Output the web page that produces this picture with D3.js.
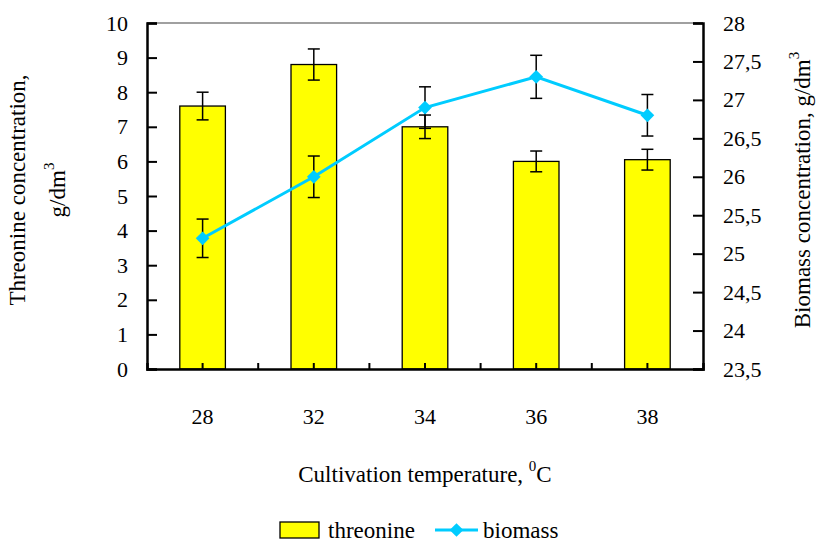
<!DOCTYPE html>
<html>
<head>
<meta charset="utf-8">
<script src="https://cdn.jsdelivr.net/npm/d3@7"></script>
<style>
  body { margin: 0; background: #fff; }
  svg text { font-family: "Liberation Serif", "Times New Roman", Times, "DejaVu Serif", serif; fill: #000; }
  .axis path, .axis line { stroke: #000; stroke-width: 2; }
  .axis text { font-size: 22px; }
</style>
</head>
<body>
<div class="chart"></div>
<script>
var temps = ["28", "32", "34", "36", "38"];
var threonine = [7.6, 8.8, 7.0, 6.0, 6.05];
var threonineErr = [0.4, 0.45, 0.34, 0.3, 0.3];
var biomass = [25.2, 26.0, 26.9, 27.3, 26.8];
var biomassErr = [0.25, 0.27, 0.27, 0.28, 0.27];
var leftTicks = [0, 1, 2, 3, 4, 5, 6, 7, 8, 9, 10];
var rightTicks = [23.5, 24, 24.5, 25, 25.5, 26, 26.5, 27, 27.5, 28];

var serif = "'Liberation Serif', 'Times New Roman', Times, 'DejaVu Serif', serif";

var margin = {top: 23, right: 115, bottom: 173, left: 147},
    width = 818 - margin.left - margin.right,
    height = 542 - margin.top - margin.bottom;

var data = temps.map(function (t, i) {
  return {t: t, thr: threonine[i], thrErr: threonineErr[i], bio: biomass[i], bioErr: biomassErr[i]};
});

var x = d3.scaleBand().domain(temps).range([0, width]).paddingInner(0).paddingOuter(0);
var y = d3.scaleLinear().domain([0, 10]).range([height, 0]);
var y2 = d3.scaleLinear().domain([23.5, 28]).range([height, 0]);
var barW = x.bandwidth() * 0.41;
var cx = function (d) { return x(d.t) + x.bandwidth() / 2; };

var svg = d3.select(".chart").append("svg")
    .attr("width", 818)
    .attr("height", 542)
  .append("g")
    .attr("transform", "translate(" + margin.left + "," + margin.top + ")");

// top border of plot area
svg.append("line")
  .attr("x1", 0).attr("x2", width)
  .attr("y1", 0).attr("y2", 0)
  .style("stroke", "#808080").style("stroke-width", 1.5);

// bars
svg.selectAll(".bar").data(data).enter().append("rect")
  .attr("class", "bar")
  .attr("x", function (d) { return cx(d) - barW / 2; })
  .attr("width", barW)
  .attr("y", function (d) { return y(d.thr); })
  .attr("height", function (d) { return height - y(d.thr); })
  .style("fill", "#ffff00")
  .style("stroke", "#000")
  .style("stroke-width", 1.3);

function errorBars(cls, ys, key, errKey) {
  var g = svg.selectAll("." + cls).data(data).enter().append("g").attr("class", cls)
    .style("stroke", "#000").style("stroke-width", 1.5);
  g.append("line")
    .attr("x1", cx).attr("x2", cx)
    .attr("y1", function (d) { return ys(d[key] + d[errKey]); })
    .attr("y2", function (d) { return ys(d[key] - d[errKey]); });
  [1, -1].forEach(function (s) {
    g.append("line")
      .attr("x1", function (d) { return cx(d) - 6; })
      .attr("x2", function (d) { return cx(d) + 6; })
      .attr("y1", function (d) { return ys(d[key] + s * d[errKey]); })
      .attr("y2", function (d) { return ys(d[key] + s * d[errKey]); });
  });
}
errorBars("err1", y, "thr", "thrErr");

// biomass line
var line = d3.line()
  .x(cx)
  .y(function (d) { return y2(d.bio); });

errorBars("err2", y2, "bio", "bioErr");

svg.append("path")
  .datum(data)
  .attr("d", line)
  .style("fill", "none")
  .style("stroke", "#00ccff")
  .style("stroke-width", 3);

var diamond = d3.symbol().type(d3.symbolDiamond2).size(120);
svg.selectAll(".pt").data(data).enter().append("path")
  .attr("class", "pt")
  .attr("d", diamond)
  .attr("transform", function (d) { return "translate(" + cx(d) + "," + y2(d.bio) + ")"; })
  .style("fill", "#00ccff");

// axes
svg.append("g")
  .attr("class", "axis")
  .call(d3.axisLeft(y).tickValues(leftTicks).tickSize(-10).tickPadding(19));

svg.append("g")
  .attr("class", "axis")
  .attr("transform", "translate(" + width + ",0)")
  .call(d3.axisRight(y2).tickValues(rightTicks).tickSize(-10).tickPadding(20)
    .tickFormat(function (d) { return String(d).replace(".", ","); }));

var xAxis = svg.append("g")
  .attr("class", "axis")
  .attr("transform", "translate(0," + height + ")")
  .call(d3.axisBottom(x).tickSize(-6).tickPadding(47));

// category boundary ticks
xAxis.selectAll(".bound").data(temps.slice(1)).enter().append("line")
  .attr("class", "bound")
  .attr("x1", function (d) { return x(d); })
  .attr("x2", function (d) { return x(d); })
  .attr("y1", 0).attr("y2", -6);

xAxis.selectAll(".tick text").attr("dy", "0.35em");

svg.selectAll(".axis").attr("font-family", null);
svg.selectAll(".axis .domain").style("stroke-width", 2.5);

// axis titles
var lt = svg.append("text")
  .attr("transform", "translate(-122," + (height / 2 - 6) + ") rotate(-90)")
  .style("text-anchor", "middle")
  .style("font-size", "23px");
lt.append("tspan").attr("x", 0).attr("y", 0).text("Threonine concentration,");
var lt2 = lt.append("tspan").attr("x", 0).attr("y", 40);
lt2.append("tspan").text("g/dm");
lt2.append("tspan").attr("dy", -11).style("font-size", "15px").text("3");

var rt = svg.append("text")
  .attr("transform", "translate(" + (width + 107) + "," + (height / 2 - 6) + ") rotate(-90)")
  .style("text-anchor", "middle")
  .style("font-size", "23px");
rt.append("tspan").text("Biomass concentration, g/dm");
rt.append("tspan").attr("dy", -11).style("font-size", "15px").text("3");

var xt = svg.append("text")
  .attr("x", width / 2)
  .attr("y", height + 113)
  .style("text-anchor", "middle")
  .style("font-size", "23px");
xt.append("tspan").text("Cultivation temperature, ");
xt.append("tspan").attr("dy", -11).style("font-size", "15px").text("0");
xt.append("tspan").attr("dy", 11).text("C");

// legend
var leg = svg.append("g").attr("transform", "translate(0," + (height + 161) + ")");
leg.append("rect")
  .attr("x", 133).attr("y", -8).attr("width", 39).attr("height", 16)
  .style("fill", "#ffff00").style("stroke", "#000").style("stroke-width", 1.3);
leg.append("text").attr("x", 181).attr("y", 8).style("font-size", "23px").text("threonine");
leg.append("line")
  .attr("x1", 288).attr("x2", 331).attr("y1", 0).attr("y2", 0)
  .style("stroke", "#00ccff").style("stroke-width", 3);
leg.append("path")
  .attr("d", diamond)
  .attr("transform", "translate(309.5,0)")
  .style("fill", "#00ccff");
leg.append("text").attr("x", 336).attr("y", 8).style("font-size", "23px").text("biomass");
</script>
</body>
</html>
